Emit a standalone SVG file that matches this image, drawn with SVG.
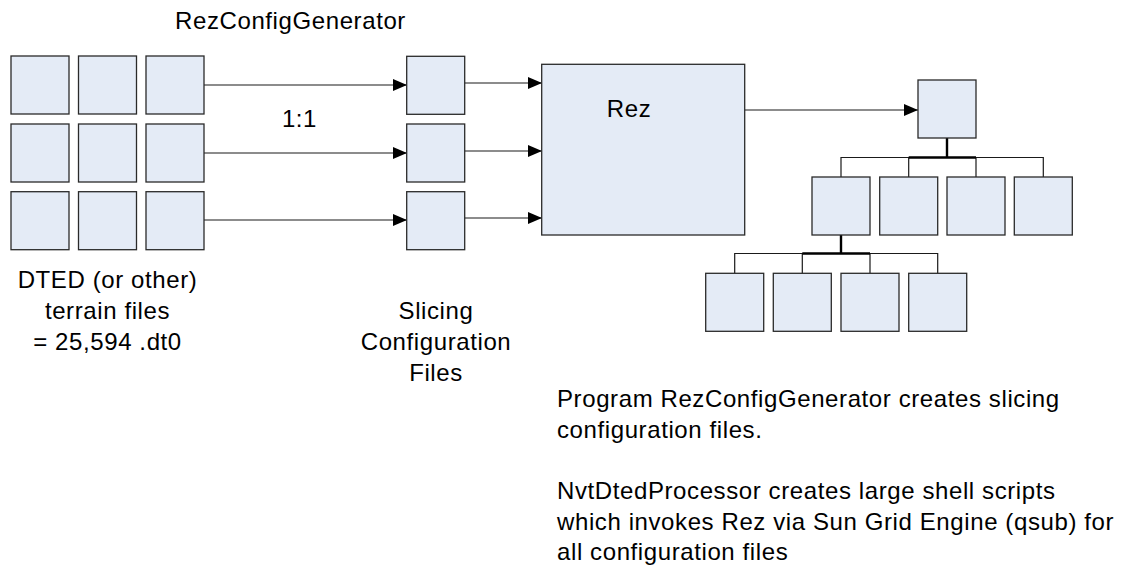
<svg xmlns="http://www.w3.org/2000/svg" width="1127" height="566" viewBox="0 0 1127 566">
<defs>
<style>
.box{fill:#E4EBF6;stroke:#2a2a2a;stroke-width:1.3}
.ln{fill:none;stroke:#1a1a1a;stroke-width:1.2}
.thk{fill:none;stroke:#000;stroke-width:2.4}
.t{font-family:"Liberation Sans",Arial,sans-serif;font-size:24px;letter-spacing:0.6px;fill:#000}
.c{text-anchor:middle}
</style>
<marker id="ah" viewBox="0 0 14 12" refX="14" refY="6" markerWidth="14" markerHeight="12" markerUnits="userSpaceOnUse" orient="auto">
<path d="M0,0 L14,6 L0,12 Z" fill="#000"/>
</marker>
</defs>
<rect width="1127" height="566" fill="#fff"/>

<g id="connectors">
<line class="ln" x1="204" y1="85" x2="407" y2="85" marker-end="url(#ah)"/>
<line class="ln" x1="204" y1="153" x2="407" y2="153" marker-end="url(#ah)"/>
<line class="ln" x1="204" y1="220" x2="407" y2="220" marker-end="url(#ah)"/>
<line class="ln" x1="465" y1="83" x2="542" y2="83" marker-end="url(#ah)"/>
<line class="ln" x1="465" y1="151" x2="542" y2="151" marker-end="url(#ah)"/>
<line class="ln" x1="465" y1="218" x2="542" y2="218" marker-end="url(#ah)"/>
<line class="ln" x1="745" y1="110" x2="918" y2="110" marker-end="url(#ah)"/>
<path class="ln" d="M947,138 V157.5 H841 V177 M908.7,157.5 V177 M976,157.5 V177 M947,157.5 H1043.3 V177"/>
<path class="thk" d="M947,138 V157.5 M908.7,157.5 H976"/>
<path class="ln" d="M841,235 V253.5 H734.7 V273.3 M802.3,253.5 V273.3 M870,253.5 V273.3 M841,253.5 H937.7 V273.3"/>
<path class="thk" d="M841,235 V253.5 M802.3,253.5 H870"/>
</g>

<g id="dted-grid">
<rect class="box" x="11" y="56" width="58" height="58"/>
<rect class="box" x="78.5" y="56" width="58" height="58"/>
<rect class="box" x="146" y="56" width="58" height="58"/>
<rect class="box" x="11" y="124" width="58" height="58"/>
<rect class="box" x="78.5" y="124" width="58" height="58"/>
<rect class="box" x="146" y="124" width="58" height="58"/>
<rect class="box" x="11" y="191.7" width="58" height="58"/>
<rect class="box" x="78.5" y="191.7" width="58" height="58"/>
<rect class="box" x="146" y="191.7" width="58" height="58"/>
</g>
<g id="dted-label">
<text class="t c" x="107.5" y="288">DTED (or other)</text>
<text class="t c" x="107.5" y="319">terrain files</text>
<text class="t c" x="107.5" y="350">= 25,594 .dt0</text>
</g>

<g id="generator-label">
<text class="t c" x="290.5" y="29">RezConfigGenerator</text>
<text class="t c" x="299.5" y="127">1:1</text>
</g>

<g id="slice-1"><rect class="box" x="406.7" y="56.3" width="58" height="58"/></g>
<g id="slice-2"><rect class="box" x="406.7" y="124" width="58" height="58"/></g>
<g id="slice-3"><rect class="box" x="406.7" y="191.7" width="58" height="58"/></g>
<g id="slice-label">
<text class="t c" x="436" y="319">Slicing</text>
<text class="t c" x="436" y="350">Configuration</text>
<text class="t c" x="436" y="381">Files</text>
</g>

<g id="rez">
<rect class="box" x="541.7" y="64.3" width="203" height="170.7"/>
<text class="t c" x="629" y="117">Rez</text>
</g>

<g id="tree-root"><rect class="box" x="918" y="80" width="58" height="58"/></g>
<g id="tree-l2-1"><rect class="box" x="812" y="177" width="58" height="58"/></g>
<g id="tree-l2-2"><rect class="box" x="879.7" y="177" width="58" height="58"/></g>
<g id="tree-l2-3"><rect class="box" x="947" y="177" width="58" height="58"/></g>
<g id="tree-l2-4"><rect class="box" x="1014.3" y="177" width="58" height="58"/></g>
<g id="tree-l3-1"><rect class="box" x="705.7" y="273.3" width="58" height="58"/></g>
<g id="tree-l3-2"><rect class="box" x="773.3" y="273.3" width="58" height="58"/></g>
<g id="tree-l3-3"><rect class="box" x="841" y="273.3" width="58" height="58"/></g>
<g id="tree-l3-4"><rect class="box" x="908.7" y="273.3" width="58" height="58"/></g>

<g id="notes">
<text class="t" x="557" y="407">Program RezConfigGenerator creates slicing</text>
<text class="t" x="557" y="438">configuration files.</text>
<text class="t" x="557" y="499">NvtDtedProcessor creates large shell scripts</text>
<text class="t" x="557" y="530">which invokes Rez via Sun Grid Engine (qsub) for</text>
<text class="t" x="557" y="560">all configuration files</text>
</g>
</svg>
